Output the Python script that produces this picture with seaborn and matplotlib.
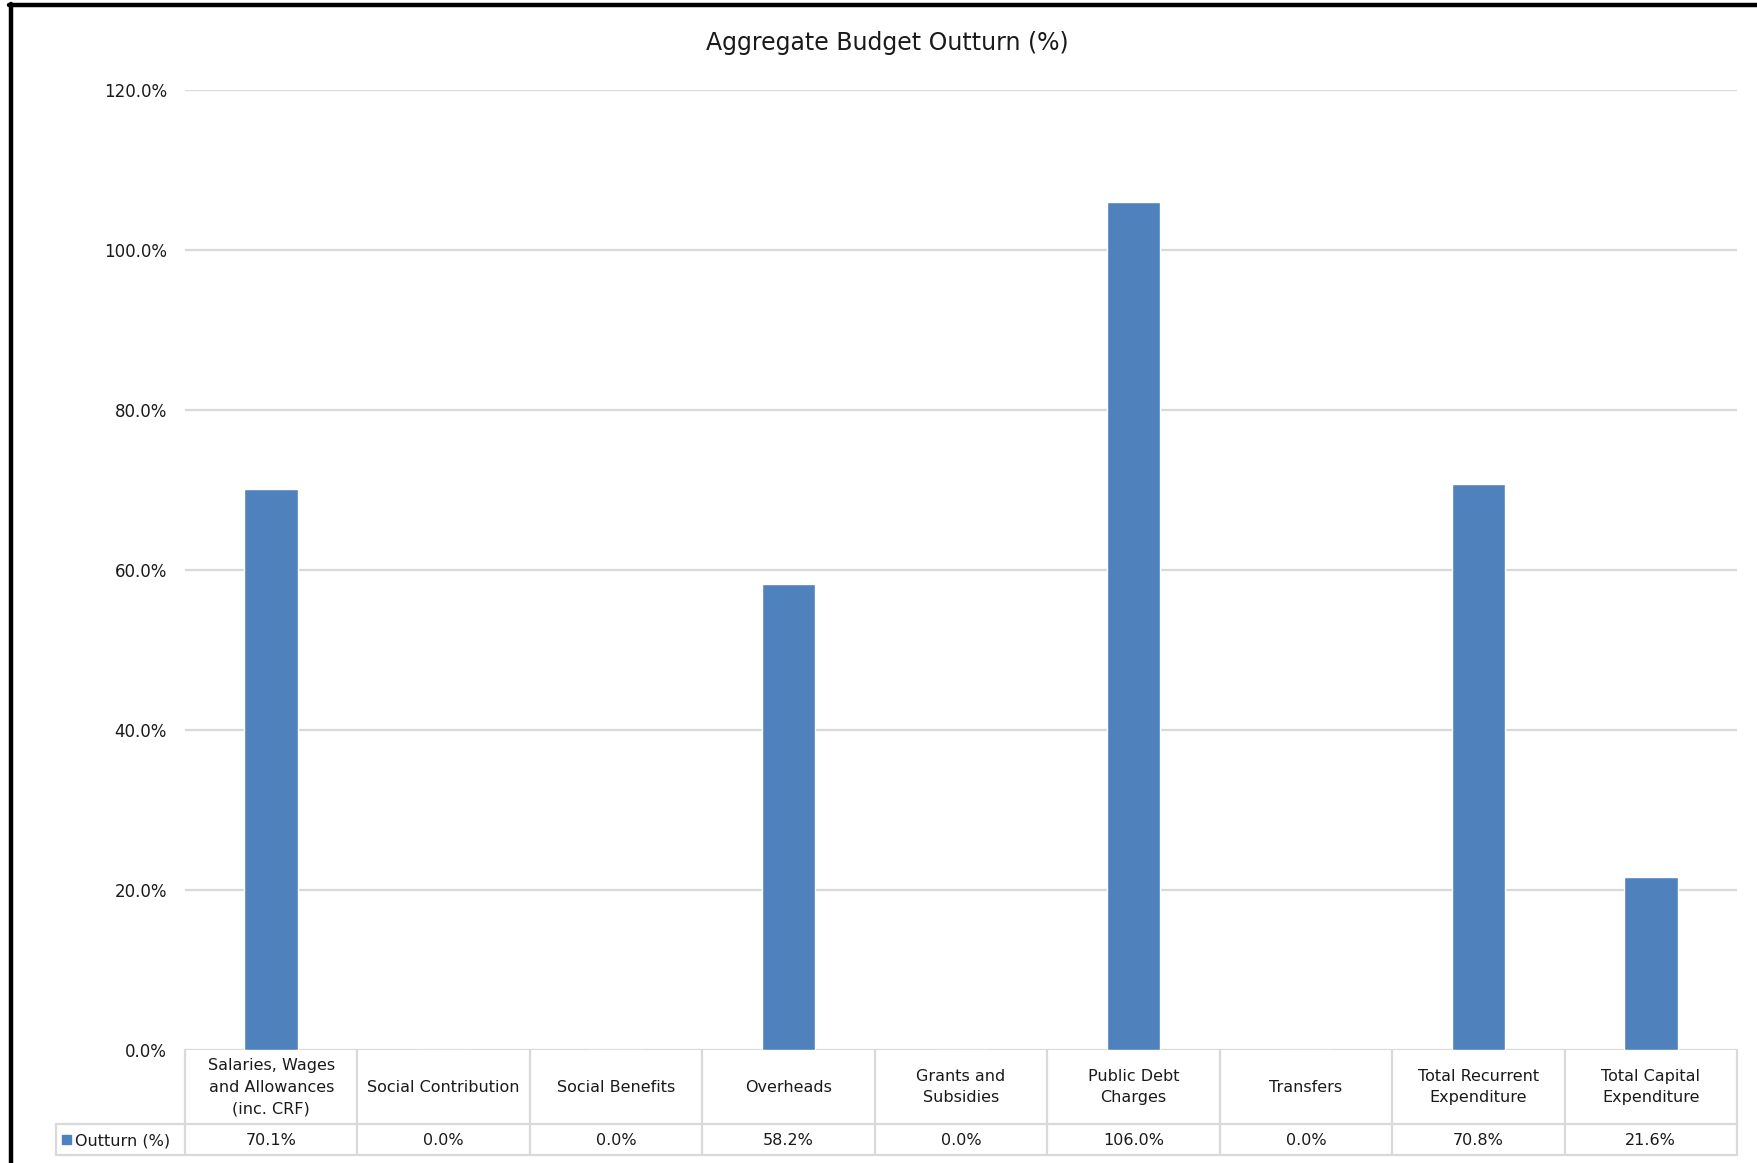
import matplotlib
matplotlib.use("Agg")
import matplotlib.pyplot as plt
import matplotlib.transforms as mtransforms
from matplotlib.lines import Line2D
from matplotlib.patches import Rectangle
import seaborn as sns
import pandas as pd

categories = [
    "Salaries, Wages\nand Allowances\n(inc. CRF)",
    "Social Contribution",
    "Social Benefits",
    "Overheads",
    "Grants and\nSubsidies",
    "Public Debt\nCharges",
    "Transfers",
    "Total Recurrent\nExpenditure",
    "Total Capital\nExpenditure",
]
outturn = [70.1, 0.0, 0.0, 58.2, 0.0, 106.0, 0.0, 70.8, 21.6]
series_name = "Outturn (%)"
yticks = [0, 20, 40, 60, 80, 100, 120]
title = "Aggregate Budget Outturn (%)"

BAR = "#4F81BD"
GRID = "#D9D9D9"
TXT = "#1a1a1a"
FS = 11.5

sns.set_theme(style="white")
plt.rcParams["font.family"] = ["DejaVu Sans"]

W, H = 1757, 1163
fig = plt.figure(figsize=(W / 100, H / 100), dpi=100)
px = lambda x: x / W
py = lambda y: 1 - y / H

ax_left, ax_right, ax_top, ax_bot = 185, 1737, 90, 1050
ax = fig.add_axes([px(ax_left), py(ax_bot), px(ax_right - ax_left), (ax_bot - ax_top) / H])

df = pd.DataFrame({"cat": categories, "val": outturn})
sns.barplot(data=df, x="cat", y="val", color=BAR, width=0.31, saturation=1, ax=ax, zorder=3)

ax.set_xlim(-0.5, len(categories) - 0.5)
ax.set_ylim(0, 120)
ax.set_yticks(yticks)
ax.set_yticklabels([f"{t:.1f}%" for t in yticks], fontsize=12, color=TXT)
ax.set_xticks([])
ax.set_xlabel("")
ax.set_ylabel("")
ax.tick_params(axis="y", length=0, pad=13)
for s in ax.spines.values():
    s.set_visible(False)
for t in yticks:
    ax.axhline(t, color=GRID, lw=1.6, zorder=1)

fig.text(px(887), py(43), title, ha="center", va="center", fontsize=17, color=TXT)

# data table below the axes
row1_bot = 1124
row2_bot = 1155
tbl_left = 56
trans = mtransforms.blended_transform_factory(ax.transData, fig.transFigure)
n = len(categories)
for i in range(n + 1):
    xb = i - 0.5
    ax.add_line(Line2D([xb, xb], [py(ax_bot), py(row2_bot)], transform=trans,
                       color=GRID, lw=1.6, clip_on=False))
for yy in (row1_bot, row2_bot):
    fig.add_artist(Line2D([px(tbl_left), px(ax_right)], [py(yy), py(yy)], color=GRID, lw=1.6))
fig.add_artist(Line2D([px(tbl_left), px(tbl_left)], [py(row1_bot), py(row2_bot)], color=GRID, lw=1.6))

for i, (c, v) in enumerate(zip(categories, outturn)):
    ax.text(i, py((ax_bot + row1_bot) / 2), c, transform=trans, ha="center", va="center",
            fontsize=FS, color=TXT, linespacing=1.55, clip_on=False)
    ax.text(i, py((row1_bot + row2_bot) / 2 + 1), f"{v:.1f}%", transform=trans, ha="center",
            va="center", fontsize=FS, color=TXT, clip_on=False)

# legend key in the table
fig.add_artist(Rectangle((px(62), py(1144)), px(9), 9 / H, color=BAR))
fig.text(px(75), py((row1_bot + row2_bot) / 2 + 1), series_name, ha="left", va="center",
         fontsize=FS, color=TXT)

# outer frame pieces (left and top borders)
fig.add_artist(Line2D([px(11), px(11)], [py(4), 0], color="black", lw=3.2))
fig.add_artist(Line2D([px(9), 1], [py(5), py(5)], color="black", lw=3.2))

fig.savefig("out.png", dpi=100, facecolor="white")
